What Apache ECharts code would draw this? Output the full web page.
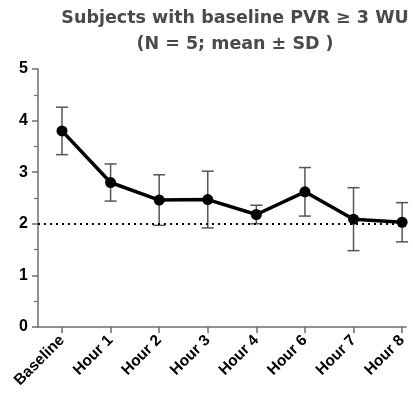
<!DOCTYPE html>
<html>
<head>
<meta charset="utf-8">
<script src="https://cdn.jsdelivr.net/npm/echarts@6/dist/echarts.min.js"></script>
<style>
  html, body { margin: 0; padding: 0; background: #fff; }
  #main { width: 413px; height: 403px; }
</style>
</head>
<body>
<div id="main"></div>
<script>
// time points
var categories = ["Baseline", "Hour 1", "Hour 2", "Hour 3", "Hour 4", "Hour 6", "Hour 7", "Hour 8"];
// PVR mean (WU)
var meanValues = [3.80, 2.80, 2.46, 2.47, 2.18, 2.62, 2.09, 2.03];
// standard deviation
var sdValues = [0.46, 0.36, 0.49, 0.55, 0.18, 0.47, 0.61, 0.38];
var refLine = 2;

var linePoints = [];
var errPoints = [];
for (var i = 0; i < categories.length; i++) {
  linePoints.push([i, meanValues[i]]);
  errPoints.push([i, meanValues[i] - sdValues[i], meanValues[i] + sdValues[i]]);
}
var idx = categories.map(function (c, i) { return i; });

var myChart = echarts.init(document.getElementById("main"));
var option = {
  animation: false,
  title: {
    text: "Subjects with baseline PVR \u2265 3 WU\n(N = 5; mean \u00b1 SD )",
    left: 230,
    textAlign: "center",
    top: 0,
    textStyle: {
      fontFamily: "DejaVu Sans",
      fontWeight: "bold",
      fontSize: 17.5,
      color: "#4a4a4a",
      lineHeight: 26
    }
  },
  grid: { left: 38, right: 7, top: 69, bottom: 76, containLabel: false },
  xAxis: {
    type: "value",
    min: -0.494,
    max: 7.08,
    splitLine: { show: false },
    axisLine: { onZero: false, lineStyle: { color: "#6e6e6e", width: 1.5 } },
    axisTick: { customValues: idx, length: 6, lineStyle: { color: "#6e6e6e", width: 1.5 } },
    axisLabel: {
      customValues: idx,
      rotate: 45,
      margin: 11,
      fontFamily: "Liberation Sans",
      fontWeight: "bold",
      fontSize: 15.5,
      color: "#000",
      formatter: function (v) { return categories[Math.round(v)]; }
    }
  },
  yAxis: {
    type: "value",
    min: 0,
    max: 5,
    interval: 1,
    splitLine: { show: false },
    axisLine: { show: true, onZero: false, lineStyle: { color: "#6e6e6e", width: 1.5 } },
    axisTick: { show: true, length: 6, lineStyle: { color: "#6e6e6e", width: 1.5 } },
    minorTick: { show: true, splitNumber: 2, length: 4, lineStyle: { color: "#6e6e6e", width: 1.2 } },
    axisLabel: {
      margin: 10,
      fontFamily: "Liberation Sans",
      fontWeight: "bold",
      fontSize: 16,
      color: "#000"
    }
  },
  series: [
    {
      type: "custom",
      z: 1,
      data: errPoints,
      renderItem: function (params, api) {
        var x = api.value(0);
        var lo = api.coord([x, api.value(1)]);
        var hi = api.coord([x, api.value(2)]);
        var w = 6;
        var st = { stroke: "#555", lineWidth: 1.5 };
        return {
          type: "group",
          children: [
            { type: "line", shape: { x1: lo[0], y1: lo[1], x2: hi[0], y2: hi[1] }, style: st },
            { type: "line", shape: { x1: hi[0] - w, y1: hi[1], x2: hi[0] + w, y2: hi[1] }, style: st },
            { type: "line", shape: { x1: lo[0] - w, y1: lo[1], x2: lo[0] + w, y2: lo[1] }, style: st }
          ]
        };
      }
    },
    {
      type: "line",
      z: 3,
      data: linePoints,
      symbol: "circle",
      symbolSize: 11,
      lineStyle: { color: "#000", width: 3.5 },
      itemStyle: { color: "#000" },
      markLine: {
        silent: true,
        symbol: "none",
        label: { show: false },
        lineStyle: { color: "#000", type: [2, 4], width: 2 },
        data: [{ yAxis: refLine }]
      }
    }
  ]
};
myChart.setOption(option);
</script>
</body>
</html>
